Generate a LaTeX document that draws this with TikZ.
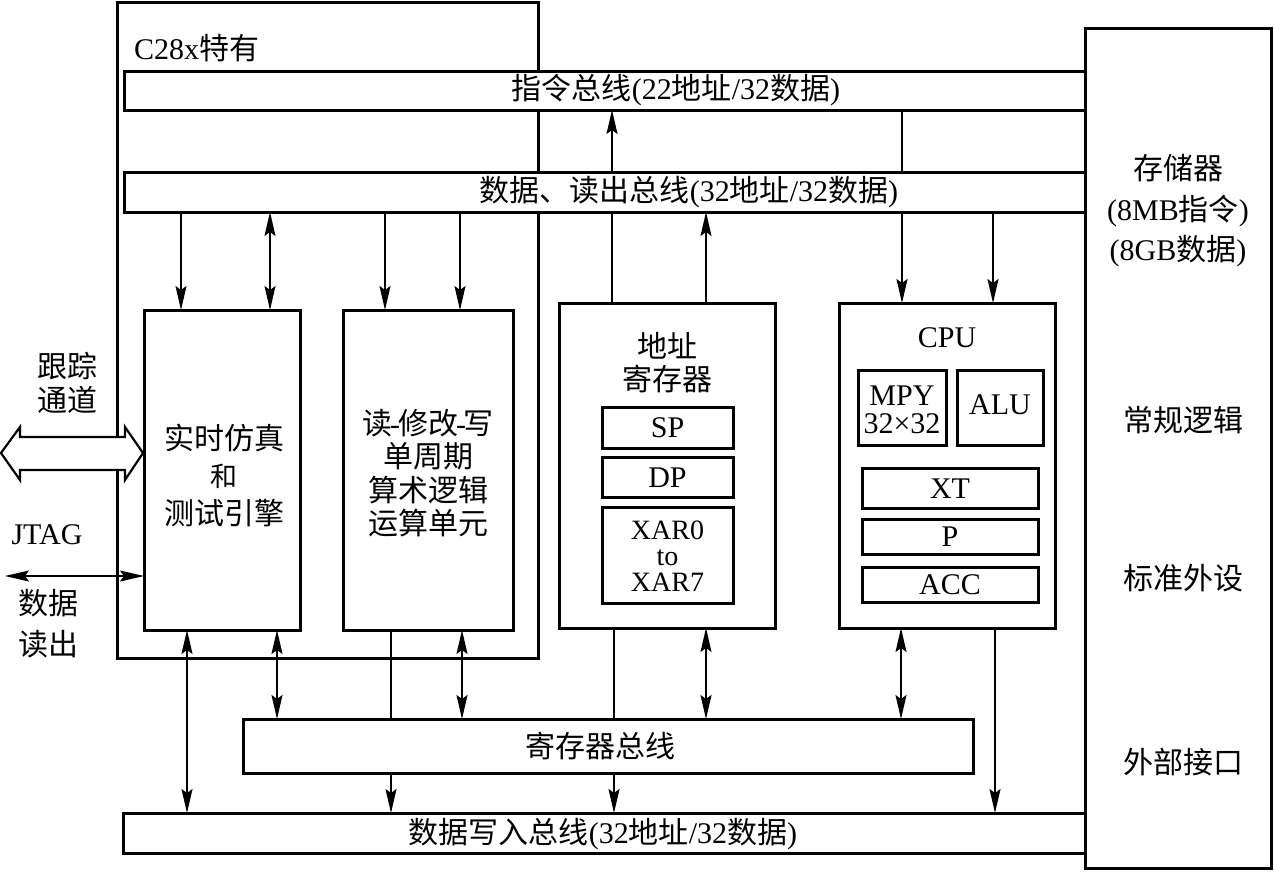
\documentclass[tikz,border=0pt]{standalone}
\usepackage{fontspec}
\setmainfont{Liberation Serif}
\newfontfamily\cjk{Noto Sans CJK SC}
\usetikzlibrary{arrows.meta}
\newcommand\zh[1]{{\cjk #1}}
\tikzset{
  box/.style={draw, line width=3pt, fill=white, inner sep=0pt, outer sep=0pt},
  lbl/.style={inner sep=0pt, font=\fontsize{30pt}{36pt}\selectfont, align=center},
  conn/.style={line width=1.5pt},
  arr/.style={conn, -{Stealth[length=24pt,width=11pt,inset=4pt]}},
  darr/.style={conn, {Stealth[length=24pt,width=11pt,inset=4pt]}-{Stealth[length=24pt,width=11pt,inset=4pt]}}
}
\begin{document}
\begin{tikzpicture}[x=1pt,y=-1pt]
\useasboundingbox (0,0) rectangle (1274,871);
% C28x region
\node[box, minimum width=421pt, minimum height=656pt] (c28) at (327.5,330) {};
\node[lbl, anchor=west] (c28lbl) at (134,48) {C28x\zh{特有}};
% memory
\node[box, minimum width=186pt, minimum height=840pt] (mem) at (1178,448) {};
\node[lbl, font=\fontsize{30pt}{40.5pt}\selectfont] (memlbl) at (1178,211) {\zh{存储器}\\(8MB\zh{指令})\\(8GB\zh{数据})};
\node[lbl] (logic) at (1183,420) {\zh{常规逻辑}};
\node[lbl] (periph) at (1183,578) {\zh{标准外设}};
\node[lbl] (ext) at (1183,762) {\zh{外部接口}};
% buses
\node[box, minimum width=961pt, minimum height=39pt] (ibus) at (604.5,90.5) {};
\node[lbl] (ibuslbl) at (676,90) {\zh{指令总线}(22\zh{地址}/32\zh{数据})};
\node[box, minimum width=961pt, minimum height=40pt] (dbus) at (604.5,192) {};
\node[lbl] (dbuslbl) at (689,192) {\zh{数据、读出总线}(32\zh{地址}/32\zh{数据})};
\node[box, minimum width=730pt, minimum height=54pt] (rbus) at (608,746) {};
\node[lbl] (rbuslbl) at (600,746) {\zh{寄存器总线}};
\node[box, minimum width=962pt, minimum height=40pt] (wbus) at (604,833) {};
\node[lbl] (wbuslbl) at (603,834) {\zh{数据写入总线}(32\zh{地址}/32\zh{数据})};
% trace channel hollow arrow
\draw[line width=2.2pt, fill=white, line join=miter] (1,453) -- (20,427) -- (20,437) -- (125,437) -- (125,427) -- (143,453) -- (125,480) -- (125,470) -- (20,470) -- (20,480) -- cycle;
% blocks
\node[box, minimum width=156pt, minimum height=320pt] (A) at (222,470) {};
\node[lbl, font=\fontsize{30pt}{37.5pt}\selectfont] (Alb) at (224,475) {\zh{实时仿真}\\{\cjk\fontsize{27pt}{37.5pt}\selectfont 和}\\\zh{测试引擎}};
\node[box, minimum width=170pt, minimum height=320pt] (B) at (428,470) {};
\node[lbl, font=\fontsize{30pt}{33.5pt}\selectfont] (Blb) at (428,473) {\zh{读}\kern-2pt-\kern-2pt\zh{修改}\kern-2pt-\kern-2pt\zh{写}\\\zh{单周期}\\\zh{算术逻辑}\\\zh{运算单元}};
\node[box, minimum width=216pt, minimum height=325pt] (C) at (667,465.5) {};
\node[lbl, font=\fontsize{30pt}{33pt}\selectfont] (Clb) at (667,363) {\zh{地址}\\\zh{寄存器}};
\node[box, minimum width=131pt, minimum height=41pt] (sp) at (667.5,427.5) {};
\node[lbl] (splb) at (667.5,428) {SP};
\node[box, minimum width=131pt, minimum height=40pt] (dp) at (667.5,477) {};
\node[lbl] (dplb) at (667.5,478) {DP};
\node[box, minimum width=131pt, minimum height=96pt] (xar) at (667.5,555) {};
\node[lbl, font=\fontsize{28pt}{26pt}\selectfont] (xarlb) at (667.5,556) {XAR0\\to\\XAR7};
\node[box, minimum width=216pt, minimum height=325pt] (cpu) at (947,465.5) {};
\node[lbl] (cpulb) at (947,338) {CPU};
\node[box, minimum width=88pt, minimum height=75pt] (mpy) at (902,407.5) {};
\node[lbl, font=\fontsize{30pt}{28pt}\selectfont] (mpylb) at (902,410) {MPY\\32×32};
\node[box, minimum width=86pt, minimum height=75pt] (alu) at (1000,407.5) {};
\node[lbl] (alulb) at (1000,405) {ALU};
\node[box, minimum width=176pt, minimum height=40pt] (xt) at (950,488) {};
\node[lbl] (xtlb) at (950,489) {XT};
\node[box, minimum width=176pt, minimum height=35pt] (p) at (950,536.5) {};
\node[lbl] (plb) at (950,537) {P};
\node[box, minimum width=176pt, minimum height=35pt] (acc) at (950,584.5) {};
\node[lbl] (acclb) at (950,585) {ACC};
% left labels
\node[lbl, font=\fontsize{30pt}{34pt}\selectfont] (trace) at (67,383) {\zh{跟踪}\\\zh{通道}};
\node[lbl] (jtag) at (47,535) {JTAG};
\node[lbl, font=\fontsize{30pt}{41pt}\selectfont] (rdout) at (48,624) {\zh{数据}\\\zh{读出}};
\coordinate (jl) at (5,576);
\draw[darr] (jl) -- (jl -| A.west);
% top connectors
\draw[arr] (181,0 |- dbus.south) -- (181,0 |- A.north);
\draw[darr] (270,0 |- dbus.south) -- (270,0 |- A.north);
\draw[arr] (385,0 |- dbus.south) -- (385,0 |- B.north);
\draw[arr] (460,0 |- dbus.south) -- (460,0 |- B.north);
\draw[conn] (612,0 |- C.north) -- (612,0 |- dbus.south);
\draw[arr] (612,0 |- dbus.north) -- (612,0 |- ibus.south);
\draw[arr] (706,0 |- C.north) -- (706,0 |- dbus.south);
\draw[conn] (902,0 |- ibus.south) -- (902,0 |- dbus.north);
\draw[arr] (902,0 |- dbus.south) -- (902,0 |- cpu.north);
\draw[arr] (993,0 |- dbus.south) -- (993,0 |- cpu.north);
% bottom connectors
\draw[darr] (187,0 |- A.south) -- (187,0 |- wbus.north);
\draw[darr] (277,0 |- A.south) -- (277,0 |- rbus.north);
\draw[conn] (391,0 |- B.south) -- (391,0 |- rbus.north);
\draw[arr] (391,0 |- rbus.south) -- (391,0 |- wbus.north);
\draw[darr] (462,0 |- B.south) -- (462,0 |- rbus.north);
\draw[conn] (614,0 |- C.south) -- (614,0 |- rbus.north);
\draw[arr] (614,0 |- rbus.south) -- (614,0 |- wbus.north);
\draw[darr] (706,0 |- C.south) -- (706,0 |- rbus.north);
\draw[darr] (901,0 |- cpu.south) -- (901,0 |- rbus.north);
\draw[arr] (995,0 |- cpu.south) -- (995,0 |- wbus.north);
\end{tikzpicture}
\end{document}
